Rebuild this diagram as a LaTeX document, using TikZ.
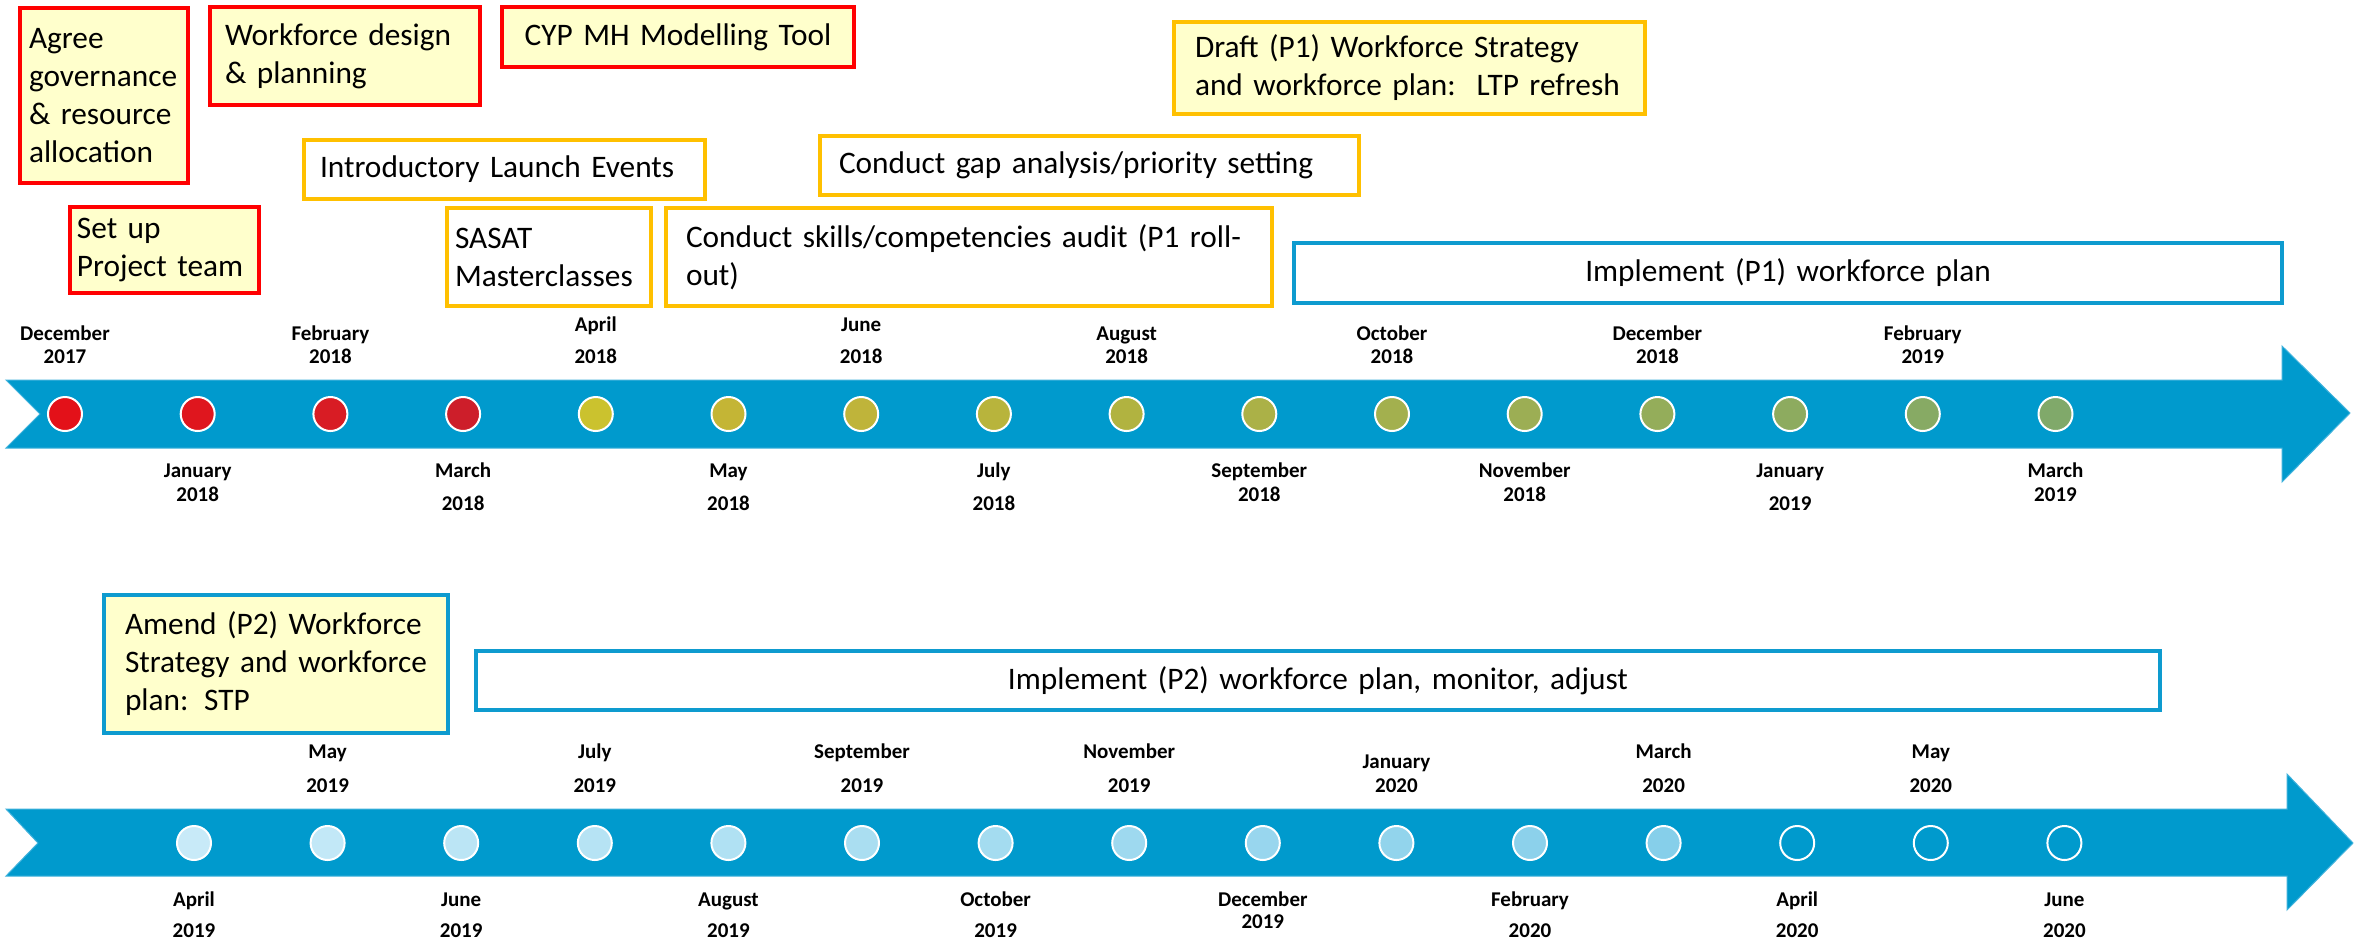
\documentclass[tikz,border=0pt]{standalone}
\usepackage{fontspec}
\setmainfont{Carlito}
\definecolor{band}{HTML}{009ACD}
\definecolor{bandedge}{HTML}{3FB2DC}
\definecolor{boxred}{HTML}{FF0000}
\definecolor{boxorange}{HTML}{FFC000}
\definecolor{boxblue}{HTML}{0E9BCF}
\definecolor{paleyellow}{HTML}{FFFFCC}
\definecolor{t0}{HTML}{E31119}\definecolor{t1}{HTML}{DF161E}\definecolor{t2}{HTML}{D81C24}\definecolor{t3}{HTML}{CD1E2A}
\definecolor{t4}{HTML}{CBC22E}\definecolor{t5}{HTML}{C4B535}\definecolor{t6}{HTML}{BFB43A}\definecolor{t7}{HTML}{B8B43C}
\definecolor{t8}{HTML}{B1B340}\definecolor{t9}{HTML}{ABB147}\definecolor{t10}{HTML}{A3B04E}\definecolor{t11}{HTML}{9CAE54}
\definecolor{t12}{HTML}{94AD5A}\definecolor{t13}{HTML}{8DAB5F}\definecolor{t14}{HTML}{87AA64}\definecolor{t15}{HTML}{80A96A}
\definecolor{b0}{HTML}{C8EAF8}\definecolor{b1}{HTML}{C2E8F7}\definecolor{b2}{HTML}{BBE5F5}\definecolor{b3}{HTML}{B6E3F4}
\definecolor{b4}{HTML}{B0E1F3}\definecolor{b5}{HTML}{AADEF1}\definecolor{b6}{HTML}{A4DCF0}\definecolor{b7}{HTML}{9ED9EF}
\definecolor{b8}{HTML}{98D6EE}\definecolor{b9}{HTML}{92D4EC}\definecolor{b10}{HTML}{8CD1EB}\definecolor{b11}{HTML}{86CFEA}
\definecolor{b12}{HTML}{009ACD}\definecolor{b13}{HTML}{009ACD}\definecolor{b14}{HTML}{009ACD}
% #1 style, #2 name, #3 x1, #4 y1, #5 x2, #6 y2, #7 left margin, #8 align, #9 text
\newcommand\tbox[9]{%
  \pgfmathsetlengthmacro\bw{(#5-#3)*0.3}%
  \pgfmathsetlengthmacro\bh{(#6-#4)*0.3}%
  \pgfmathsetlengthmacro\mg{(#7)*0.3}%
  \pgfmathsetlengthmacro\tw{(#5-#3-2*#7)*0.3}%
  \node[#1, minimum width=\bw, minimum height=\bh, inner xsep=\mg, inner ysep=0pt,
        text width=\tw, align=#8] (#2) at ({(#3+#5)/2},{(#4+#6)/2}) {#9};}
% #1 name, #2 x, #3 month, #4 year, #5 month baseline, #6 year baseline
\newcommand\mlab[6]{%
  \node[lab] (#1m) at (#2,#5) {#3};
  \node[lab] (#1y) at (#2,#6) {#4};}
\begin{document}
\begin{tikzpicture}[x=0.3pt,y=-0.3pt,
  boxfont/.style={font=\fontsize{9.4pt}{11.4pt}\selectfont},
  rbox/.style={draw=boxred, fill=paleyellow, line width=1.05pt, boxfont},
  obox/.style={draw=boxorange, fill=white, line width=1.05pt, boxfont},
  oybox/.style={draw=boxorange, fill=paleyellow, line width=1.05pt, boxfont},
  bbox/.style={draw=boxblue, fill=white, line width=0.95pt, boxfont},
  bybox/.style={draw=boxblue, fill=paleyellow, line width=0.95pt, boxfont},
  lab/.style={anchor=base, inner sep=0pt, font=\fontsize{6.3pt}{7.5pt}\selectfont\bfseries},
  dot/.style={circle, draw=white, line width=0.6pt, minimum size=10.2pt, inner sep=0pt},
  bandstyle/.style={fill=band, draw=bandedge, line width=0.3pt}
]
\useasboundingbox (0,0) rectangle (2356,951);
\fill[white] (0,0) rectangle (2356,951);

% ---- bands ----
\path[bandstyle] (6,380) -- (2282,380) -- (2282,346) -- (2350,413) -- (2282,482) -- (2282,448) -- (6,448) -- (40,414) -- cycle;
\path[bandstyle] (6,809) -- (2287,809) -- (2287,774) -- (2353,843) -- (2287,910) -- (2287,876) -- (6,876) -- (38,843) -- cycle;

% ---- top circles ----
\foreach \i in {0,...,15}{
  \node[dot, fill=t\i] (c\i) at ({65+132.7*\i},414) {};
}
% ---- bottom circles ----
\foreach \j in {0,...,14}{
  \node[dot, fill=b\j] (d\j) at ({194+133.6*\j},843) {};
}

% ---- top labels ----
\mlab{l0}{65}{December}{2017}{340}{363}
\mlab{l2}{330.4}{February}{2018}{340}{363}
\mlab{l4}{595.8}{April}{2018}{331}{363}
\mlab{l6}{861.2}{June}{2018}{331}{363}
\mlab{l8}{1126.6}{August}{2018}{340}{363}
\mlab{l10}{1392}{October}{2018}{340}{363}
\mlab{l12}{1657.4}{December}{2018}{340}{363}
\mlab{l14}{1922.8}{February}{2019}{340}{363}
\mlab{l1}{197.7}{January}{2018}{477}{501}
\mlab{l3}{463.1}{March}{2018}{477}{510}
\mlab{l5}{728.5}{May}{2018}{477}{510}
\mlab{l7}{993.9}{July}{2018}{477}{510}
\mlab{l9}{1259.3}{September}{2018}{477}{501}
\mlab{l11}{1524.7}{November}{2018}{477}{501}
\mlab{l13}{1790.1}{January}{2019}{477}{510}
\mlab{l15}{2055.5}{March}{2019}{477}{501}

% ---- bottom labels ----
\mlab{k1}{327.6}{May}{2019}{758}{792}
\mlab{k3}{594.8}{July}{2019}{758}{792}
\mlab{k5}{862}{September}{2019}{758}{792}
\mlab{k7}{1129.2}{November}{2019}{758}{792}
\mlab{k9}{1396.4}{January}{2020}{768}{792}
\mlab{k11}{1663.6}{March}{2020}{758}{792}
\mlab{k13}{1930.8}{May}{2020}{758}{792}
\mlab{k0}{194}{April}{2019}{906}{937}
\mlab{k2}{461.2}{June}{2019}{906}{937}
\mlab{k4}{728.4}{August}{2019}{906}{937}
\mlab{k6}{995.6}{October}{2019}{906}{937}
\mlab{k8}{1262.8}{December}{2019}{906}{928}
\mlab{k10}{1530}{February}{2020}{906}{937}
\mlab{k12}{1797.2}{April}{2020}{906}{937}
\mlab{k14}{2064.4}{June}{2020}{906}{937}

% ---- activity boxes ----
\tbox{rbox}{agree}{20}{8}{188}{183}{9}{left}{\mbox{Agree}\\\mbox{governance}\\\mbox{\& resource}\\\mbox{allocation}\\[2.7pt]}
\tbox{rbox}{wfd}{210}{7}{480}{105}{15}{left}{\mbox{Workforce design}\\\mbox{\& planning}}
\tbox{rbox}{cyp}{502}{7}{854}{67}{12}{center}{\mbox{CYP MH Modelling Tool}}
\tbox{rbox}{setup}{70}{207}{259}{293}{7}{left}{\mbox{Set up}\\\mbox{Project team}}
\tbox{obox}{intro}{304}{140}{705}{199}{16}{left}{\mbox{Introductory Launch Events}}
\tbox{obox}{sasat}{447}{208}{651}{306}{8}{left}{\mbox{SASAT}\\\mbox{Masterclasses}}
\tbox{obox}{skills}{666}{208}{1272}{306}{20}{left}{\mbox{Conduct skills/competencies audit (P1 roll-}\\\mbox{out)}}
\tbox{obox}{gap}{820}{136}{1359}{195}{19}{left}{\mbox{Conduct gap analysis/priority setting}}
\tbox{oybox}{draft}{1174}{22}{1645}{114}{21}{left}{\mbox{Draft (P1) Workforce Strategy}\\\mbox{and workforce plan:~~LTP refresh}}
\tbox{bbox}{implA}{1294}{243}{2282}{303}{12}{center}{\mbox{Implement (P1) workforce plan}}
\tbox{bybox}{amend}{104}{595}{448}{733}{21}{left}{\mbox{Amend (P2) Workforce}\\\mbox{Strategy and workforce}\\\mbox{plan: STP}}
\tbox{bbox}{implB}{476}{651}{2160}{710}{12}{center}{\mbox{Implement (P2) workforce plan, monitor, adjust}}
\end{tikzpicture}
\end{document}
